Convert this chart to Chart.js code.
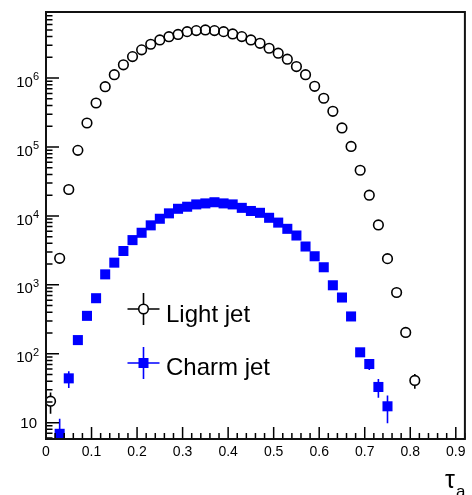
<!DOCTYPE html>
<html><head><meta charset="utf-8">
<script src="https://cdn.jsdelivr.net/npm/chart.js@4/dist/chart.umd.min.js"></script>
<style>html,body{margin:0;padding:0;background:#fff}canvas{display:block}</style>
</head><body>
<canvas id="c" width="472" height="495"></canvas>
<script>
// ---- data ----
const seriesNames = ['Light jet', 'Charm jet'];
const lightX = [0.01,0.03,0.05,0.07,0.09,0.11,0.13,0.15,0.17,0.19,0.21,0.23,0.25,0.27,0.29,0.31,0.33,0.35,0.37,0.39,0.41,0.43,0.45,0.47,0.49,0.51,0.53,0.55,0.57,0.59,0.61,0.63,0.65,0.67,0.69,0.71,0.73,0.75,0.77,0.79,0.81];
const lightY = [20.5,2430,24200,89500,223000,435000,750000,1.12e6,1.56e6,2.05e6,2.57e6,3.1e6,3.58e6,3.99e6,4.3e6,4.72e6,4.89e6,5.0e6,4.89e6,4.72e6,4.37e6,4.0e6,3.58e6,3.2e6,2.71e6,2.3e6,1.88e6,1.47e6,1.12e6,7.6e5,5.1e5,3.3e5,1.89e5,1.02e5,4.6e4,2.0e4,7.4e3,2.4e3,775,204,41];
const lightErr = [7,0,0,0,0,0,0,0,0,0,0,0,0,0,0,0,0,0,0,0,0,0,0,0,0,0,0,0,0,0,0,0,0,0,0,0,0,0,0,0,10];
const charmX = [0.03,0.05,0.07,0.09,0.11,0.13,0.15,0.17,0.19,0.21,0.23,0.25,0.27,0.29,0.31,0.33,0.35,0.37,0.39,0.41,0.43,0.45,0.47,0.49,0.51,0.53,0.55,0.57,0.59,0.61,0.63,0.65,0.67,0.69,0.71,0.73,0.75];
const charmY = [6.9,44,158,355,640,1420,2100,3100,4460,5700,7300,9100,10900,12700,13600,14700,15200,15800,15200,14700,13100,11800,11100,9400,8000,6500,5200,3600,2600,1800,986,655,348,105,71,33,17.3];
const charmErr = [4.5,12,0,0,0,0,0,0,0,0,0,0,0,0,0,0,0,0,0,0,0,0,0,0,0,0,0,0,0,0,0,0,0,15,13,10,7.5];
const xTickValues = [0,0.1,0.2,0.3,0.4,0.5,0.6,0.7,0.8,0.9];
const xTickLabels = ['0','0.1','0.2','0.3','0.4','0.5','0.6','0.7','0.8','0.9'];
const xMinorStep = 0.02;
const yTickValues = [10,100,1000,10000,100000,1000000];
const yTickBase = ['10','10','10','10','10','10'];
const yTickExp = ['','2','3','4','5','6'];
const yMinorMult = [2,3,4,5,6,7,8,9];
const axisTitleMain = '\u03C4';
const axisTitleSub = 'a';

const FONT = "'Liberation Sans', Arial, 'DejaVu Sans', sans-serif";
const LIGHT_R = 4.8;

const rootStyle = {
  id: 'rootStyle',
  beforeDatasetsDraw(chart) {
    const ctx = chart.ctx, a = chart.chartArea;
    const xs = chart.scales.x, ys = chart.scales.y;
    ctx.save();
    ctx.beginPath(); ctx.rect(a.left, a.top, a.right - a.left, a.bottom - a.top); ctx.clip();
    chart.data.datasets.forEach((ds) => {
      ctx.strokeStyle = ds.pointBorderColor;
      ctx.lineWidth = 1.6;
      ds.data.forEach((p, j) => {
        const e = ds.errors[j];
        if (!e) return;
        const px = xs.getPixelForValue(p.x);
        const py = ys.getPixelForValue(p.y);
        const lo = p.y - e > ys.min ? ys.getPixelForValue(p.y - e) : a.bottom + 5;
        const hi = ys.getPixelForValue(p.y + e);
        const gap = ds.gap;
        ctx.beginPath();
        if (py - gap > hi) { ctx.moveTo(px, py - gap); ctx.lineTo(px, hi); }
        if (py + gap < lo) { ctx.moveTo(px, py + gap); ctx.lineTo(px, lo); }
        ctx.stroke();
      });
    });
    ctx.restore();
  },
  afterDraw(chart) {
    const ctx = chart.ctx, a = chart.chartArea;
    const xs = chart.scales.x, ys = chart.scales.y;
    ctx.save();
    // inward ticks
    ctx.strokeStyle = '#000'; ctx.lineWidth = 1.5;
    ctx.beginPath();
    yTickValues.forEach(v => {
      const y = ys.getPixelForValue(v);
      ctx.moveTo(a.left, y); ctx.lineTo(a.left + 13, y);
    });
    for (let d = 1; d <= 1e6; d *= 10) {
      yMinorMult.forEach(m => {
        const v = d * m;
        if (v < ys.min || v > ys.max) return;
        const y = ys.getPixelForValue(v);
        ctx.moveTo(a.left, y); ctx.lineTo(a.left + 6.5, y);
      });
    }
    xTickValues.forEach(v => {
      const x = xs.getPixelForValue(v);
      ctx.moveTo(x, a.bottom); ctx.lineTo(x, a.bottom - 12);
    });
    for (let k = 0; k * xMinorStep <= xs.max + 1e-9; k++) {
      const v = k * xMinorStep;
      const x = xs.getPixelForValue(v);
      ctx.moveTo(x, a.bottom); ctx.lineTo(x, a.bottom - 6);
    }
    ctx.stroke();
    // frame
    ctx.lineWidth = 2;
    ctx.strokeStyle = '#111';
    ctx.strokeRect(a.left, a.top, a.right - a.left, a.bottom - a.top);
    // y tick labels: 10 with raised exponent
    ctx.fillStyle = '#000';
    ctx.textBaseline = 'alphabetic'; ctx.textAlign = 'right';
    yTickValues.forEach((v, i) => {
      const y = ys.getPixelForValue(v);
      const exp = yTickExp[i];
      const right = a.left - 7;
      if (exp) {
        ctx.font = '11px ' + FONT;
        ctx.fillText(exp, right, y + 1.8);
        const ew = ctx.measureText(exp).width;
        ctx.font = '15px ' + FONT;
        ctx.fillText(yTickBase[i], right - ew, y + 8.6);
      } else {
        ctx.font = '15px ' + FONT;
        ctx.fillText(yTickBase[i], right - 2, y + 5.4);
      }
    });
    // legend
    const lg = [
      {ds: chart.data.datasets[0], cx: 143.5, cy: 309, ty: 322},
      {ds: chart.data.datasets[1], cx: 143.5, cy: 363, ty: 375}
    ];
    lg.forEach((it, i) => {
      const ds = it.ds;
      const col = ds.pointBorderColor;
      ctx.strokeStyle = col; ctx.lineWidth = 1.6;
      const g = i === 0 ? LIGHT_R : 0;
      ctx.beginPath();
      ctx.moveTo(it.cx - 16, it.cy); ctx.lineTo(it.cx - g, it.cy);
      ctx.moveTo(it.cx + g, it.cy); ctx.lineTo(it.cx + 16, it.cy);
      ctx.moveTo(it.cx, it.cy - 16); ctx.lineTo(it.cx, it.cy - g);
      ctx.moveTo(it.cx, it.cy + g); ctx.lineTo(it.cx, it.cy + 16);
      ctx.stroke();
      if (i === 0) {
        ctx.beginPath(); ctx.arc(it.cx, it.cy, LIGHT_R, 0, Math.PI * 2); ctx.stroke();
      } else {
        ctx.fillStyle = col; ctx.fillRect(it.cx - 5, it.cy - 5, 10, 10);
      }
      ctx.fillStyle = '#000';
      ctx.font = '24px ' + FONT;
      ctx.textBaseline = 'alphabetic'; ctx.textAlign = 'left';
      ctx.fillText(ds.label, 166, it.ty);
    });
    // axis title
    ctx.fillStyle = '#000';
    ctx.font = '25px ' + FONT;
    ctx.textAlign = 'left'; ctx.textBaseline = 'alphabetic';
    ctx.fillText(axisTitleMain, 445, 488);
    const tw = ctx.measureText(axisTitleMain).width;
    ctx.font = '17px ' + FONT;
    ctx.fillText(axisTitleSub, 445 + tw + 1, 497);
    ctx.restore();
  }
};

const mk = (xsArr, ysArr) => xsArr.map((x, i) => ({x: x, y: ysArr[i]}));

new Chart(document.getElementById('c'), {
  type: 'scatter',
  data: {
    datasets: [
      {label: seriesNames[0], data: mk(lightX, lightY), errors: lightErr, gap: LIGHT_R,
       pointStyle: 'circle', pointRadius: LIGHT_R, pointBorderWidth: 1.6,
       borderColor: '#000', backgroundColor: 'transparent', pointBackgroundColor: 'transparent', pointBorderColor: '#000'},
      {label: seriesNames[1], data: mk(charmX, charmY), errors: charmErr, gap: 0,
       pointStyle: 'rect', pointRadius: 7.1, pointBorderWidth: 0,
       borderColor: '#0000ff', backgroundColor: '#0000ff', pointBackgroundColor: '#0000ff', pointBorderColor: '#0000ff'}
    ]
  },
  options: {
    responsive: false, animation: false, devicePixelRatio: 1,
    layout: {padding: {top: 12, right: 3, left: 0, bottom: 0}},
    plugins: {legend: {display: false}, tooltip: {enabled: false}},
    scales: {
      x: {
        type: 'linear', min: 0, max: 0.92,
        grid: {display: false, drawTicks: false}, border: {display: false},
        afterBuildTicks: s => { s.ticks = xTickValues.map(v => ({value: v})); },
        afterFit: s => { s.height = 56; s.paddingLeft = 0; s.paddingRight = 0; },
        ticks: {autoSkip: false, maxRotation: 0, padding: 5, color: '#000',
          font: {family: FONT, size: 14},
          callback: (v, i) => xTickLabels[i]}
      },
      y: {
        type: 'logarithmic', min: 5.8, max: 9.1e6,
        grid: {display: false, drawTicks: false}, border: {display: false},
        afterBuildTicks: s => { s.ticks = yTickValues.map(v => ({value: v, major: true})); },
        afterFit: s => { s.width = 46; s.paddingTop = 0; s.paddingBottom = 0; },
        ticks: {display: false, autoSkip: false}
      }
    }
  },
  plugins: [rootStyle]
});
</script>
</body></html>
